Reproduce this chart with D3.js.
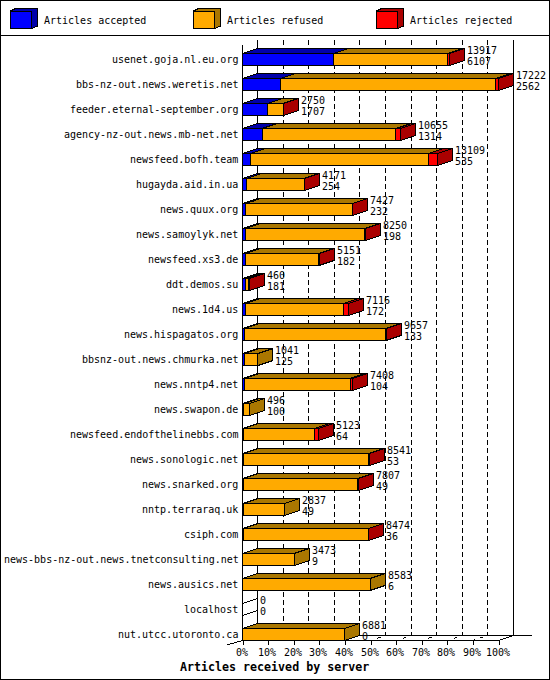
<!DOCTYPE html>
<html>
<head>
	<title>Articles received by server</title>
	<script src="https://d3js.org/d3.v7.min.js"></script>
	<style>
		html, body { margin: 0; padding: 0; background: white; }
		svg { display: block; }
		text { font-family: "DejaVu Sans Mono", monospace; font-size: 10px; fill: black; }
		.title { font-size: 11.65px; font-weight: bold; }
	</style>
</head>
<body>
	<div id="chart"></div>
	<script type="text/javascript">

		var hosts = ["usenet.goja.nl.eu.org", "bbs-nz-out.news.weretis.net", "feeder.eternal-september.org",
			"agency-nz-out.news.mb-net.net", "newsfeed.bofh.team", "hugayda.aid.in.ua", "news.quux.org",
			"news.samoylyk.net", "newsfeed.xs3.de", "ddt.demos.su", "news.1d4.us", "news.hispagatos.org",
			"bbsnz-out.news.chmurka.net", "news.nntp4.net", "news.swapon.de", "newsfeed.endofthelinebbs.com",
			"news.sonologic.net", "news.snarked.org", "nntp.terraraq.uk", "csiph.com",
			"news-bbs-nz-out.news.tnetconsulting.net", "news.ausics.net", "localhost", "nut.utcc.utoronto.ca"];
		var offered = [13917, 17222, 2750, 10655, 13109, 4171, 7427, 8250, 5151, 460, 7116, 9657,
			1041, 7408, 496, 5123, 8541, 7807, 2837, 8474, 3473, 8583, 0, 6881];
		var accepted = [6107, 2562, 1707, 1314, 535, 254, 232, 198, 182, 181, 172, 133,
			125, 104, 100, 64, 53, 49, 49, 36, 9, 6, 0, 0];
		var refused = [7660, 14460, 1023, 9011, 11974, 3887, 7165, 8027, 4959, 239, 6644, 9484,
			916, 7134, 396, 4759, 8448, 7698, 2788, 8418, 3464, 8577, 0, 6881];
		var rejected = [150, 200, 20, 330, 600, 30, 30, 25, 10, 40, 300, 40,
			0, 170, 0, 300, 40, 60, 0, 20, 0, 0, 0, 0];
		var percents = [0, 10, 20, 30, 40, 50, 60, 70, 80, 90, 100];
		var seriesNames = ["Articles accepted", "Articles refused", "Articles rejected"];

		var front = ["#0000ff", "#ffaa00", "#ff0000"];
		var dark = ["#0000aa", "#aa7700", "#aa0000"];
		var series = [accepted, refused, rejected];

		var width = 550, height = 680;
		var depthX = 15, depthY = 5, barH = 12;
		var floorY = 640.5;

		var x = d3.scaleLinear().domain([0, d3.max(offered)]).range([242.5, 498.5]);
		var xPct = d3.scaleLinear().domain([0, 100]).range([242.5, 498.5]);
		var y = d3.scalePoint().domain(hosts).range([59.5, 634.5]);
		var legendX = d3.scalePoint().domain(seriesNames).range([10.5, 376.5]);

		var svg = d3.select("#chart").append("svg")
			.attr("width", width)
			.attr("height", height);

		var lines = svg.append("g").attr("shape-rendering", "crispEdges")
			.attr("stroke", "black").attr("fill", "none");

		// outer frame and legend separator
		lines.append("rect").attr("x", 0.5).attr("y", 0.5).attr("width", width - 1).attr("height", height - 1);
		lines.append("line").attr("x1", 0).attr("x2", width).attr("y1", 35.5).attr("y2", 35.5);

		// back wall grid
		percents.forEach(function (p) {
			var bx = Math.round(xPct(p) + depthX - 0.5) + 0.5;
			var solid = p == 0 || p == 100;
			lines.append("line")
				.attr("x1", bx).attr("x2", bx)
				.attr("y1", 40).attr("y2", floorY - depthY)
				.attr("stroke-dasharray", solid ? null : "5 3");
			lines.append("line")
				.attr("x1", xPct(p)).attr("x2", bx)
				.attr("y1", floorY).attr("y2", floorY - depthY)
				.attr("stroke-dasharray", solid ? null : "2 5 3 20");
			// heavier blob halfway along the floor line, as in the original
			if (!solid) {
				lines.append("line")
					.attr("x1", xPct(p) + 8).attr("x2", xPct(p) + 10)
					.attr("y1", floorY - 3).attr("y2", floorY - 3);
			}
		});

		// floor, left wall, stub in front of 0%
		lines.append("line").attr("x1", 257.5).attr("x2", 532).attr("y1", 635.5).attr("y2", 635.5);
		lines.append("line").attr("x1", 242.5).attr("x2", 242.5).attr("y1", 45).attr("y2", floorY);
		lines.append("line").attr("x1", 227).attr("x2", 242.5).attr("y1", 645).attr("y2", floorY);

		// bars, one 3d segment per series
		function parallelogram(x0, x1, yy) {
			return [[x0, yy], [x0 + depthX, yy - depthY], [x1 + depthX, yy - depthY], [x1, yy]].join(" ");
		}
		function sideFace(xx, yy) {
			return [[xx, yy], [xx + depthX, yy - depthY], [xx + depthX, yy + barH - depthY], [xx, yy + barH]].join(" ");
		}

		var bars = svg.append("g").attr("shape-rendering", "crispEdges").attr("stroke", "black");

		hosts.forEach(function (host, i) {
			var top = y(host) - barH / 2;
			var sum = 0, last = -1;
			series.forEach(function (s, k) {
				if (s[i] > 0) last = k;
			});
			series.forEach(function (s, k) {
				if (s[i] <= 0) return;
				var x0 = x(sum), x1 = x(sum + s[i]);
				sum += s[i];
				bars.append("polygon").attr("points", parallelogram(x0, x1, top)).attr("fill", dark[k]);
				if (k == last) bars.append("polygon").attr("points", sideFace(x1, top)).attr("fill", dark[k]);
				bars.append("rect")
					.attr("x", x0).attr("y", top)
					.attr("width", x1 - x0).attr("height", barH)
					.attr("fill", front[k]);
			});
			// empty row still leaves its two depth edges
			if (last < 0) bars.append("polygon").attr("points", sideFace(x(0), top)).attr("fill", "none");
		});

		// legend boxes
		var legend = svg.append("g").attr("shape-rendering", "crispEdges").attr("stroke", "black");
		seriesNames.forEach(function (name, k) {
			var lx = legendX(name);
			legend.append("polygon")
				.attr("points", [[lx, 11], [lx + 6, 8], [lx + 27, 8], [lx + 27, 26], [lx + 21, 28.5], [lx + 21, 11]].join(" "))
				.attr("fill", dark[k]);
			legend.append("rect")
				.attr("x", lx).attr("y", 11)
				.attr("width", 21).attr("height", 17.5)
				.attr("fill", front[k]);
		});

		// front axis with ticks
		var axisG = svg.append("g")
			.attr("transform", "translate(0," + (floorY - 0.5) + ")")
			.attr("shape-rendering", "crispEdges")
			.call(d3.axisBottom(xPct).tickValues(percents).tickSize(5).tickSizeOuter(0)
				.tickFormat(function (d) { return d + "%"; }));
		axisG.selectAll("text").remove();

		// all the text goes in one group
		var labels = svg.append("g");

		seriesNames.forEach(function (name) {
			labels.append("text").attr("x", Math.round(legendX(name) + 33.5)).attr("y", 24).text(name);
		});

		hosts.forEach(function (host, i) {
			var cy = Math.floor(y(host));
			labels.append("text")
				.attr("x", 238 - host.length * 6).attr("y", cy + 4)
				.text(host);
			var lx = Math.round(x(offered[i]) + depthX + 2.5);
			labels.append("text").attr("x", lx).attr("y", cy - 5).text(offered[i]);
			labels.append("text").attr("x", lx).attr("y", cy + 6).text(accepted[i]);
		});

		percents.forEach(function (p) {
			var s = p + "%";
			labels.append("text")
				.attr("x", Math.round(xPct(p) - s.length * 3) - 1).attr("y", 656)
				.text(s);
		});

		labels.append("text").attr("class", "title")
			.attr("x", 180).attr("y", 671)
			.text("Articles received by server");

	</script>
</body>
</html>
